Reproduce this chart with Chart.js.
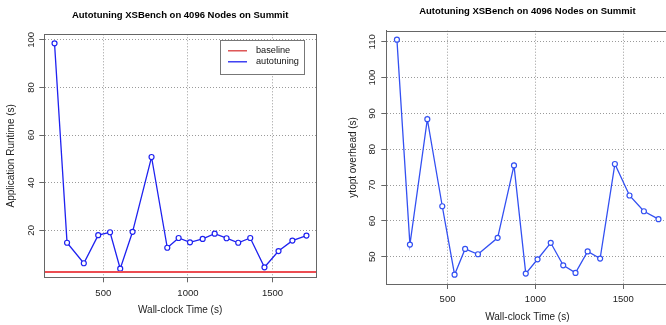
<!DOCTYPE html>
<html>
<head>
<meta charset="utf-8">
<script src="https://cdn.jsdelivr.net/npm/chart.js@4.4.1/dist/chart.umd.min.js"></script>
<style>
  html, body { margin: 0; padding: 0; background: #fff; overflow: hidden; width: 666px; height: 325px; }
  canvas { position: absolute; top: 0; }
  #left { left: 0; }
  #right { left: 333px; }
</style>
</head>
<body>
<canvas id="left" width="333" height="325"></canvas>
<canvas id="right" width="350" height="325"></canvas>
<script>
const titleText = 'Autotuning XSBench on 4096 Nodes on Summit';

// wall-clock time of each autotuning step (s)
const wallTime = [212, 286, 385, 470, 540, 600, 673, 785, 878, 945, 1012, 1087, 1158, 1228, 1297, 1368, 1452, 1535, 1617, 1700];
// application runtime per step (s)
const runtime = [98.5, 14.8, 6.2, 18.0, 19.2, 3.9, 19.4, 50.8, 12.7, 16.8, 15.0, 16.4, 18.6, 16.7, 14.8, 16.8, 4.5, 11.3, 15.7, 17.8];
// ytopt overhead per step (s)
const overhead = [110.6, 53.4, 88.4, 64.1, 45.0, 52.2, 50.7, 55.3, 75.5, 45.3, 49.3, 53.9, 47.6, 45.5, 51.5, 49.5, 75.9, 67.1, 62.7, 60.5];
const baselineRuntime = 2.5;

const xRange = [151.6, 1756.4];
const xTicks = [500, 1000, 1500];
const leftYRange = [0.3, 102.3];
const leftYTicks = [20, 40, 60, 80, 100];
const rightYRange = [42.4, 113.1];
const rightYTicks = [50, 60, 70, 80, 90, 100, 110];

const FONT = '"Liberation Sans", Arial, Helvetica, sans-serif';

const toPoints = (xs, ys) => xs.map((x, i) => ({ x: x, y: ys[i] }));

// box round the plot region, like R's box()
const framePlugin = {
  id: 'frame',
  afterDraw(chart) {
    const { ctx, chartArea: a } = chart;
    ctx.save();
    ctx.strokeStyle = '#666';
    ctx.lineWidth = 1;
    ctx.strokeRect(Math.round(a.left) + 0.5, Math.round(a.top) + 0.5, Math.round(a.right - a.left), Math.round(a.bottom - a.top));
    ctx.restore();
  }
};

// R style vertical tick labels on the y axis
const yLabelPlugin = {
  id: 'yLabels',
  afterDraw(chart, args, opts) {
    const { ctx, chartArea: a } = chart;
    const scale = chart.scales.y;
    ctx.save();
    ctx.font = '9.5px ' + FONT;
    ctx.fillStyle = '#222';
    ctx.textAlign = 'center';
    ctx.textBaseline = 'middle';
    scale.ticks.forEach((t) => {
      const py = scale.getPixelForValue(t.value);
      ctx.save();
      ctx.translate(a.left - opts.offset, py);
      ctx.rotate(-Math.PI / 2);
      ctx.fillText(String(t.value), 0, 0);
      ctx.restore();
    });
    ctx.restore();
  }
};

// legend in a box at the top right of the plot
const boxLegendPlugin = {
  id: 'boxLegend',
  afterDraw(chart, args, opts) {
    if (!opts.show) return;
    const { ctx, chartArea: a } = chart;
    const w = 84, h = 34;
    const bx = a.right - 12 - w, by = a.top + 6;
    ctx.save();
    ctx.fillStyle = '#fff';
    ctx.fillRect(bx, by, w, h);
    ctx.strokeStyle = '#777';
    ctx.lineWidth = 1;
    ctx.strokeRect(Math.round(bx) + 0.5, Math.round(by) + 0.5, w, h);
    ctx.font = '9.2px ' + FONT;
    ctx.textBaseline = 'middle';
    ctx.textAlign = 'left';
    chart.data.datasets.forEach((ds, i) => {
      const y = by + 10.5 + i * 11;
      ctx.strokeStyle = ds.legendColor || ds.borderColor;
      ctx.lineWidth = 1.3;
      ctx.beginPath();
      ctx.moveTo(bx + 8, y);
      ctx.lineTo(bx + 27, y);
      ctx.stroke();
      ctx.fillStyle = '#111';
      ctx.fillText(ds.label, bx + 36, y);
    });
    ctx.restore();
  }
};

const gridOpts = {
  color: '#9a9a9a',
  lineWidth: 1,
  tickLength: 5,
  tickColor: '#666',
  tickBorderDash: []
};

const makeChart = (id, p) => {
  const ctx = document.getElementById(id).getContext('2d');
  return new Chart(ctx, {
    type: 'line',
    data: { datasets: p.datasets },
    options: {
      responsive: false,
      animation: false,
      devicePixelRatio: 1,
      layout: { padding: { left: 0, right: p.padRight, top: 0, bottom: 0 } },
      plugins: {
        legend: { display: false },
        tooltip: { enabled: false },
        title: {
          display: true,
          text: titleText,
          fullSize: false,
          color: '#000',
          font: { family: FONT, size: 9.5, weight: 'bold' },
          padding: { top: p.titleTop, bottom: p.titleBottom }
        },
        yLabels: { offset: p.yLabelOffset },
        boxLegend: { show: p.legend }
      },
      scales: {
        x: {
          type: 'linear',
          min: xRange[0],
          max: xRange[1],
          afterBuildTicks: (s) => { s.ticks = xTicks.map((v) => ({ value: v })); },
          afterFit: (s) => { s.height = p.xHeight; },
          ticks: {
            color: '#222',
            font: { family: FONT, size: 9.5 },
            padding: p.xTickPad,
            maxRotation: 0,
            callback: (v) => String(v)
          },
          grid: gridOpts,
          border: { display: true, color: '#666', dash: [1, 2] },
          title: {
            display: true,
            text: 'Wall-clock Time (s)',
            color: '#222',
            font: { family: FONT, size: 10 },
            padding: { top: 0, bottom: p.xTitlePad }
          }
        },
        y: {
          type: 'linear',
          min: p.yRange[0],
          max: p.yRange[1],
          afterBuildTicks: (s) => { s.ticks = p.yTicks.map((v) => ({ value: v })); },
          afterFit: (s) => { s.width = p.yWidth; },
          ticks: { display: false },
          grid: gridOpts,
          border: { display: true, color: '#666', dash: [1, 2] },
          title: {
            display: true,
            text: p.yTitle,
            color: '#222',
            font: { family: FONT, size: 10 },
            padding: { top: p.yTitlePad, bottom: 0 }
          }
        }
      }
    },
    plugins: [framePlugin, yLabelPlugin, boxLegendPlugin]
  });
};

const seriesStyle = (color) => ({
  borderColor: color,
  borderWidth: 1.3,
  pointRadius: 2.5,
  pointBorderWidth: 1.2,
  pointBorderColor: color,
  pointBackgroundColor: '#fff',
  tension: 0,
  fill: false
});

makeChart('left', {
  padRight: 17,
  titleTop: 9.3,
  titleBottom: 13.6,
  yLabelOffset: 12.6,
  legend: true,
  xHeight: 47.7,
  xTickPad: 5.5,
  xTitlePad: 9,
  yRange: leftYRange,
  yTicks: leftYTicks,
  yWidth: 44.3,
  yTitle: 'Application Runtime (s)',
  yTitlePad: 5.7,
  datasets: [
    {
      label: 'baseline',
      data: toPoints(xRange, [baselineRuntime, baselineRuntime]),
      borderColor: '#ec4d52',
      legendColor: '#d83a3a',
      borderWidth: 2,
      pointRadius: 0,
      fill: false
    },
    Object.assign({ label: 'autotuning', data: toPoints(wallTime, runtime) }, seriesStyle('#1f22f0'))
  ]
});

makeChart('right', {
  padRight: 14.6,
  titleTop: 5.3,
  titleBottom: 14,
  yLabelOffset: 14.3,
  legend: false,
  xHeight: 41,
  xTickPad: 4.5,
  xTitlePad: 1.7,
  yRange: rightYRange,
  yTicks: rightYTicks,
  yWidth: 53.3,
  yTitle: 'ytopt overhead (s)',
  yTitlePad: 14.7,
  datasets: [
    Object.assign({ label: 'ytopt overhead', data: toPoints(wallTime, overhead) }, seriesStyle('#3350f2'))
  ]
});
</script>
</body>
</html>
